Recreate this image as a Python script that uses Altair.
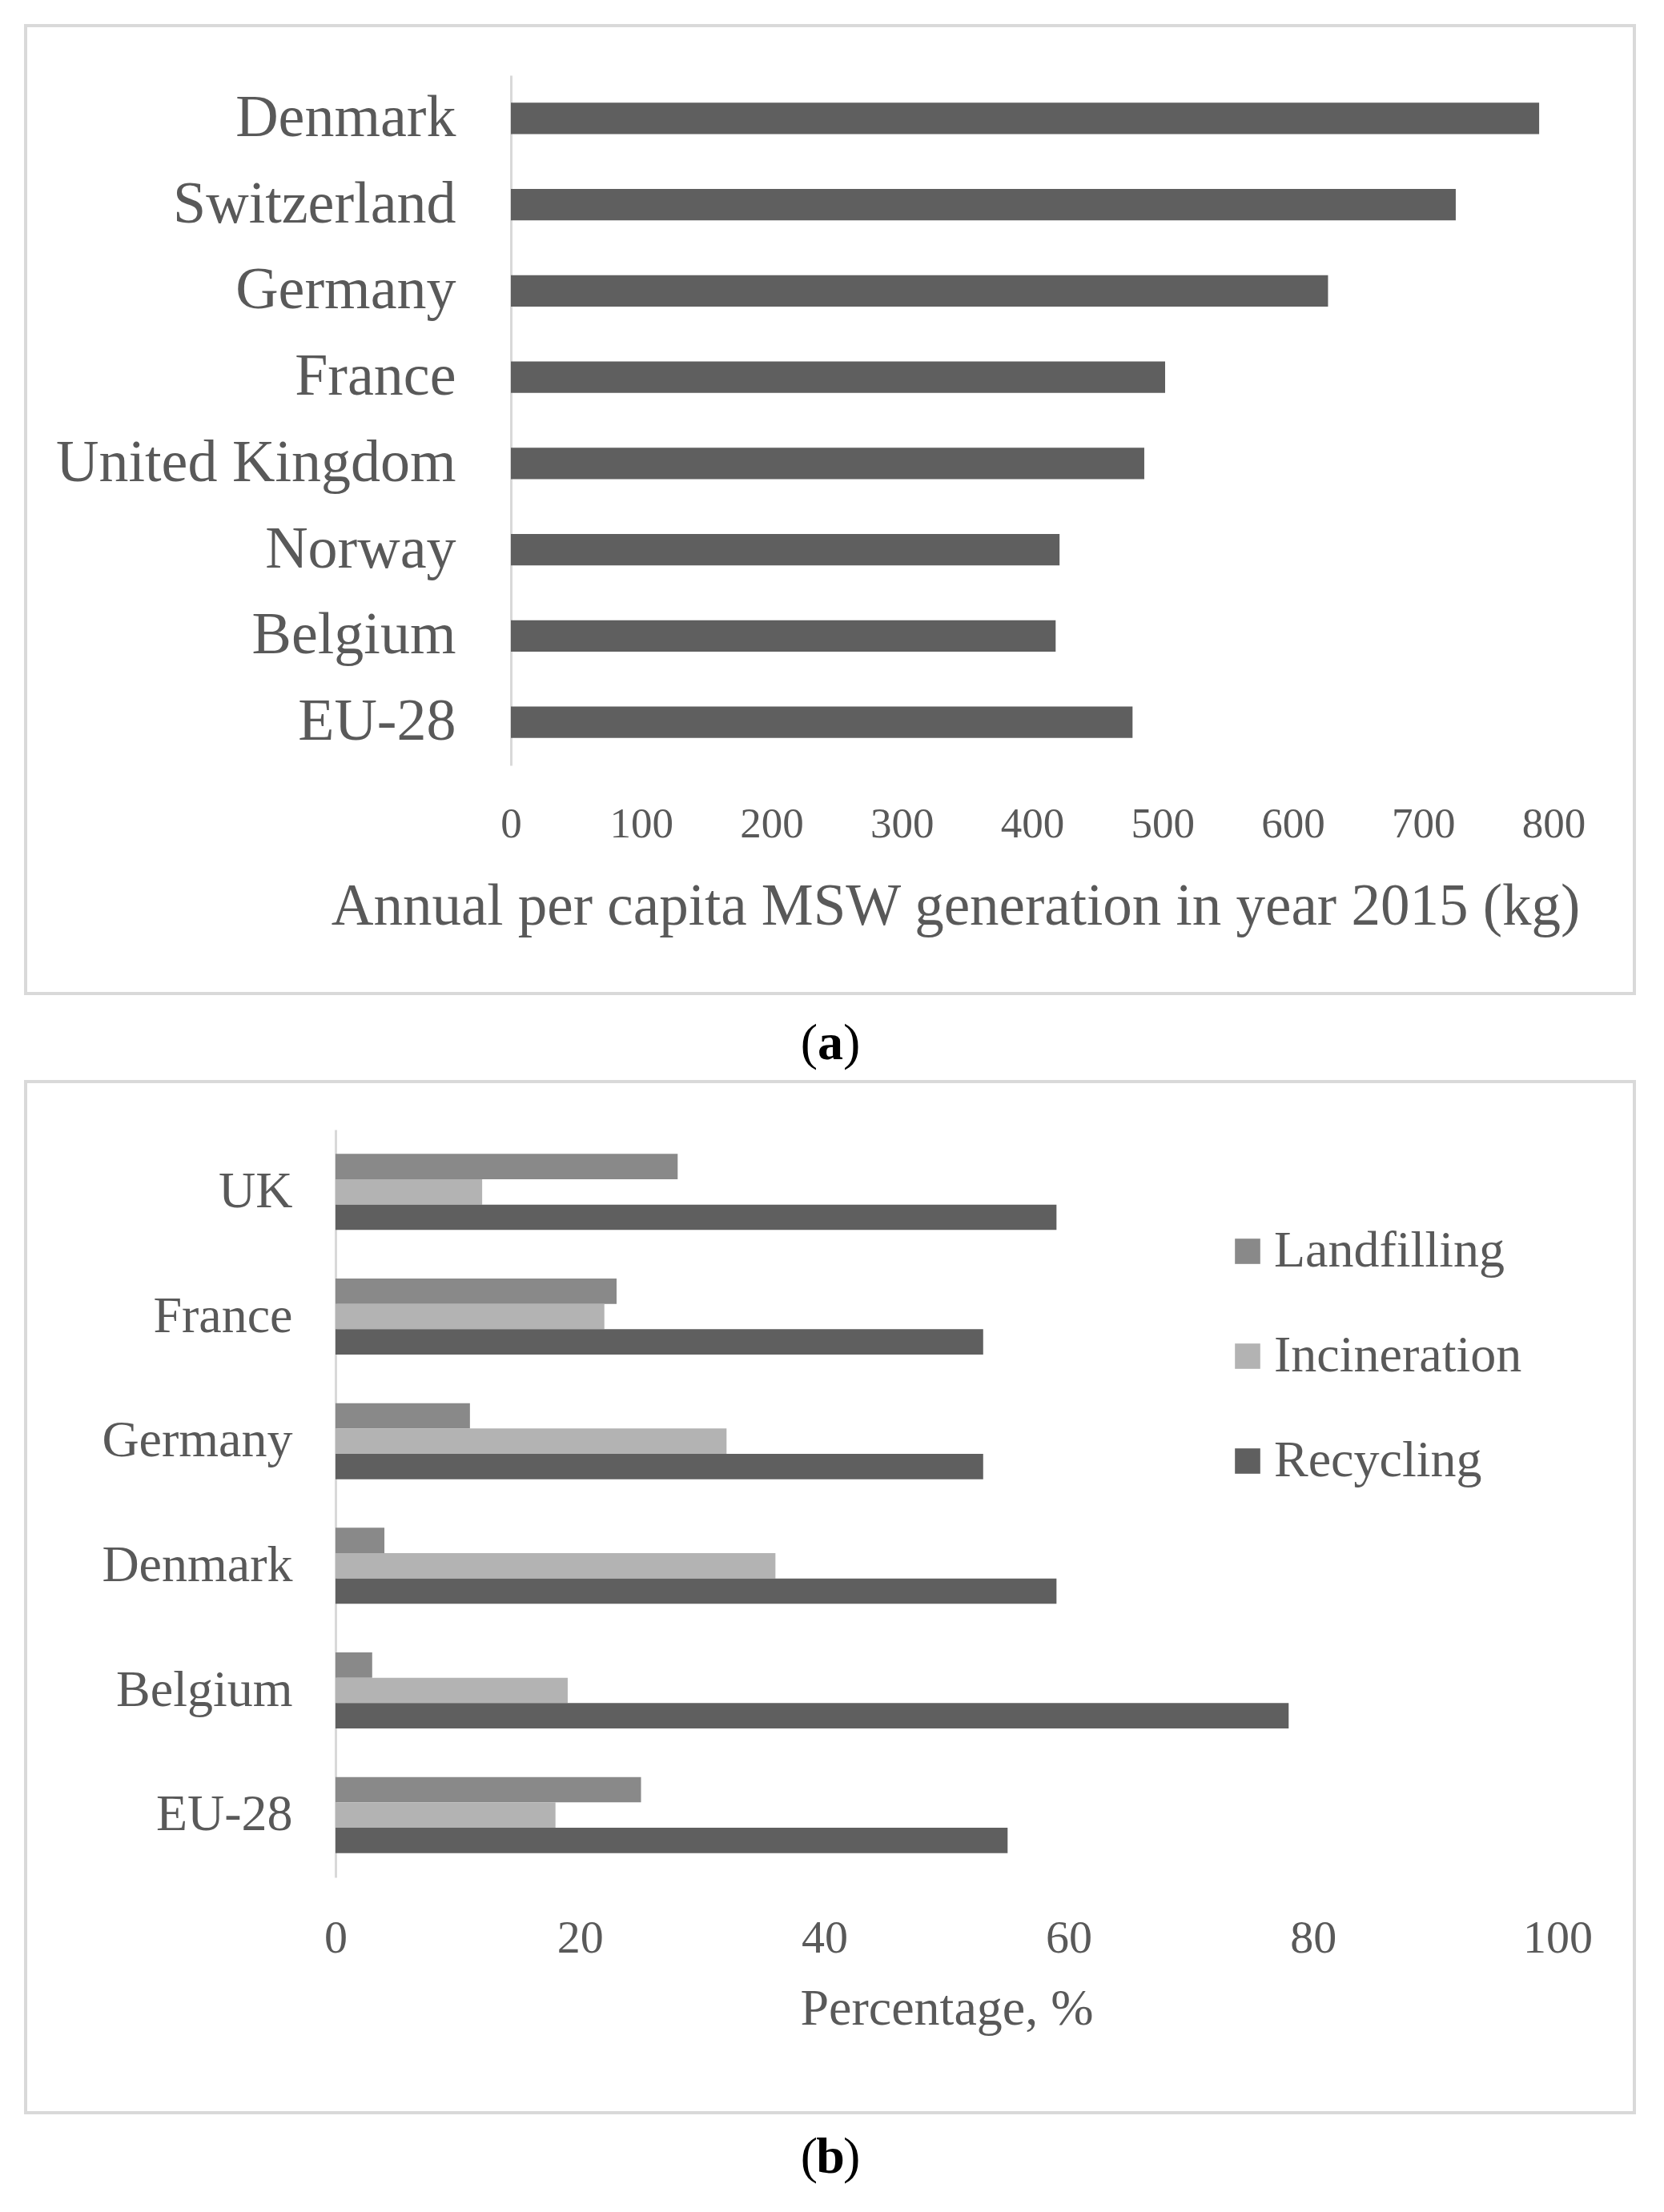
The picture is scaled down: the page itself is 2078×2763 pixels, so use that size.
import altair as alt
import pandas as pd

# ---------- data ----------
countries_a = ["Denmark", "Switzerland", "Germany", "France", "United Kingdom", "Norway", "Belgium", "EU-28"]
msw_kg = [789, 725, 627, 502, 486, 421, 418, 477]
ticks_a = [0, 100, 200, 300, 400, 500, 600, 700, 800]

countries_b = ["UK", "France", "Germany", "Denmark", "Belgium", "EU-28"]
treatments = ["Landfilling", "Incineration", "Recycling"]
landfilling = [28, 23, 11, 4, 3, 25]
incineration = [12, 22, 32, 36, 19, 18]
recycling = [59, 53, 53, 59, 78, 55]
ticks_b = [0, 20, 40, 60, 80, 100]
colors_b = ["#898989", "#b3b3b3", "#5f5f5f"]

FONT = "Liberation Serif"
TXT = "#595959"
BORDER = "#d9d9d9"

df_a = pd.DataFrame({"country": countries_a, "kg": msw_kg})
rows = []
for i, c in enumerate(countries_b):
    for t, vals in zip(treatments, [landfilling, incineration, recycling]):
        rows.append({"country": c, "treatment": t, "pct": vals[i]})
df_b = pd.DataFrame(rows)
one = pd.DataFrame({"k": [0]})


def caption(letter, cx, base_y):
    base = alt.Chart(one)
    lp = base.mark_text(font=FONT, fontSize=64, color="black", align="right", baseline="alphabetic", text="(").encode(
        x=alt.value(cx - 16), y=alt.value(base_y))
    mid = base.mark_text(font=FONT, fontSize=64, fontWeight="bold", color="black", align="center", baseline="alphabetic", text=letter).encode(
        x=alt.value(cx), y=alt.value(base_y))
    rp = base.mark_text(font=FONT, fontSize=64, color="black", align="left", baseline="alphabetic", text=")").encode(
        x=alt.value(cx + 16), y=alt.value(base_y))
    return lp + mid + rp


def frame(x0, x1, y0, y1):
    return alt.Chart(one).mark_rect(fill="white", fillOpacity=0, stroke=BORDER, strokeWidth=4).encode(
        x=alt.value(x0), x2=alt.value(x1), y=alt.value(y0), y2=alt.value(y1))


# both panels share the same left plot edge (x=419 on the page);
# panel (a) starts its value axis 219 px further right
SHIFT = 219

# ---------- panel (a) ----------
bars_a = alt.Chart(df_a).mark_bar(color="#5f5f5f").encode(
    x=alt.X("kg:Q",
            scale=alt.Scale(domain=[0, 800], nice=False, range=[SHIFT, SHIFT + 1302]),
            axis=alt.Axis(values=ticks_a, grid=False, domain=False, ticks=False, tickSize=0,
                          labelFont=FONT, labelFontSize=53, labelColor=TXT, labelPadding=73,
                          labelBaseline="middle", labelFlush=False, labelOverlap=False,
                          title="Annual per capita MSW generation in year 2015 (kg)",
                          titleFont=FONT, titleFontSize=73, titleFontWeight="normal", titleColor=TXT,
                          titleX=SHIFT + 555, titleY=176, titleBaseline="middle", titleAlign="center",
                          titleLimit=3000)),
    y=alt.Y("country:N", sort=countries_a,
            scale=alt.Scale(paddingInner=0.638, paddingOuter=0.319),
            axis=alt.Axis(title=None, domain=True, domainColor=BORDER, domainWidth=3, ticks=False, tickSize=0,
                          offset=-SHIFT,
                          labelFont=FONT, labelFontSize=74, labelColor=TXT, labelPadding=69,
                          labelLimit=2000)),
)

panel_a = alt.layer(
    frame(-387, 1622, -62, 1147), bars_a, caption("a", 618, 1229)
).properties(width=SHIFT + 1302, height=862)

# ---------- panel (b) ----------
bars_b = alt.Chart(df_b).mark_bar().encode(
    x=alt.X("pct:Q",
            scale=alt.Scale(domain=[0, 100], nice=False),
            axis=alt.Axis(values=ticks_b, grid=False, domain=False, ticks=False, tickSize=0,
                          labelFont=FONT, labelFontSize=58, labelColor=TXT, labelPadding=76,
                          labelBaseline="middle", labelFlush=False, labelOverlap=False,
                          title="Percentage, %",
                          titleFont=FONT, titleFontSize=64, titleFontWeight="normal", titleColor=TXT,
                          titleX=763, titleY=164, titleBaseline="middle", titleAlign="center")),
    y=alt.Y("country:N", sort=countries_b,
            scale=alt.Scale(paddingInner=0.39, paddingOuter=0.195),
            axis=alt.Axis(title=None, domain=True, domainColor=BORDER, domainWidth=3, ticks=False, tickSize=0,
                          labelFont=FONT, labelFontSize=64, labelColor=TXT, labelPadding=54,
                          labelLimit=2000)),
    yOffset=alt.YOffset("treatment:N", scale=alt.Scale(domain=treatments)),
    color=alt.Color("treatment:N",
                    scale=alt.Scale(domain=treatments, range=colors_b),
                    legend=alt.Legend(title=None, orient="none", legendX=1107, legendY=120,
                                      symbolType="square", symbolSize=1000, symbolStrokeWidth=0,
                                      symbolOpacity=1, labelFont=FONT, labelFontSize=64, labelColor=TXT,
                                      rowPadding=67, labelOffset=1, padding=0, labelLimit=2000)),
)

panel_b = alt.layer(frame(-387, 1622, -60, 1228), bars_b, caption("b", 618, 1303)).properties(width=1526, height=934)

chart = alt.vconcat(panel_a, panel_b, spacing=13).properties(
    padding={"left": 22, "top": 22, "right": 5, "bottom": 5}
).resolve_scale(color="independent").resolve_legend(color="independent").configure_view(strokeWidth=0)

chart.save("out.html", embed_options={"renderer": "svg", "actions": False})
